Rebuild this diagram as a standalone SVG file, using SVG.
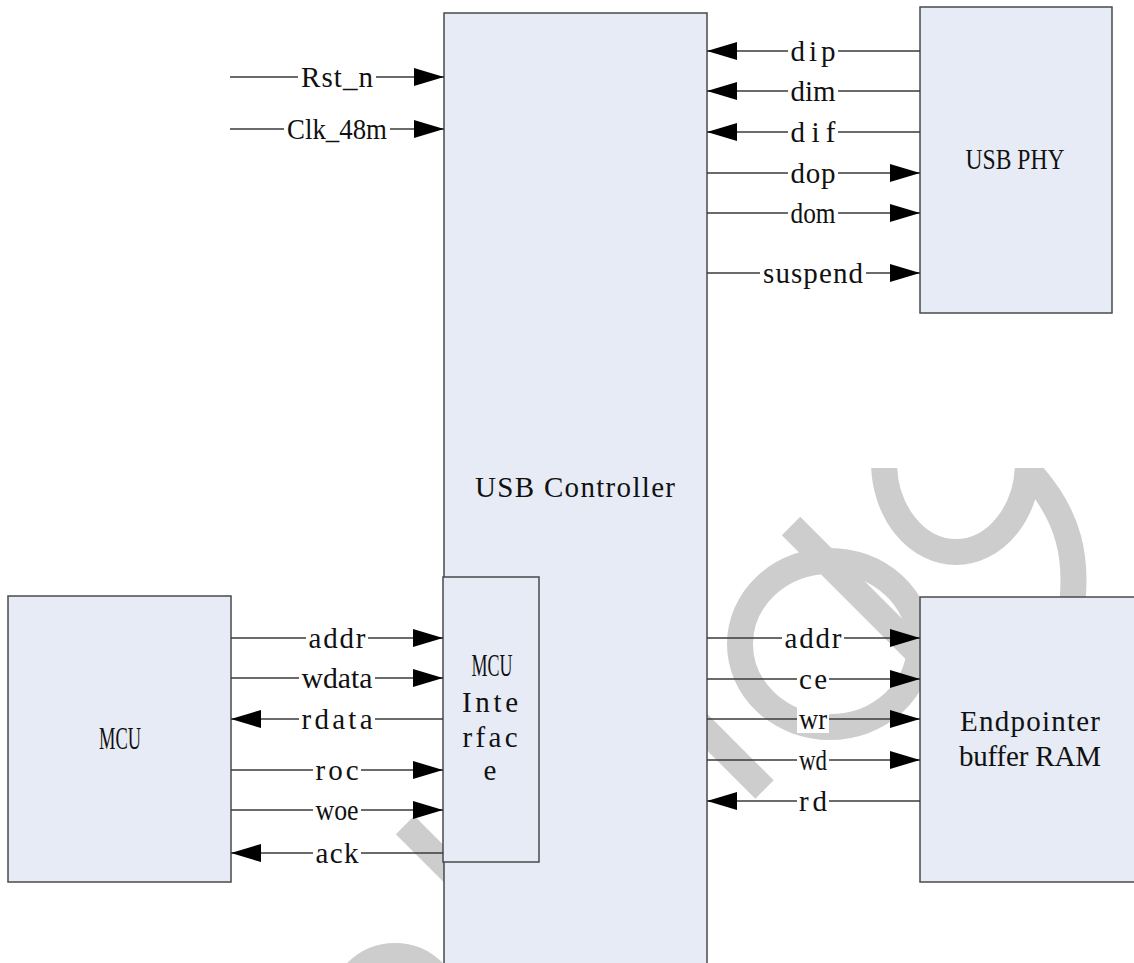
<svg xmlns="http://www.w3.org/2000/svg" width="1134" height="963" viewBox="0 0 1134 963">
<style>
.box{fill:#e7ebf5;stroke:#4a4a4a;stroke-width:1.5}
.t{font-family:"Liberation Serif",serif;font-size:29px;fill:#111;text-anchor:middle}
.u{font-size:31px}
.w{fill:none;stroke:#cdcdcd;stroke-width:26}
.c{stroke:#3a3a3a;stroke-width:1.4;fill:none;marker-end:url(#ah)}
.bg{fill:#fff}
</style>
<defs>
<marker id="ah" viewBox="0 0 30 20" refX="30" refY="10" markerWidth="30" markerHeight="20" markerUnits="userSpaceOnUse" orient="auto">
<path d="M0,1 L30,10 L0,19 z" fill="#000"/>
</marker>
<clipPath id="cut"><rect x="0" y="468" width="1134" height="500"/></clipPath>
</defs>
<rect width="1134" height="963" fill="#fff"/>
<g id="watermark">
<line class="w" x1="405" y1="825" x2="490" y2="910" stroke-width="23"/>
<circle class="w" cx="395" cy="1010" r="54"/>
<ellipse class="w" cx="956" cy="462" rx="72" ry="90" clip-path="url(#cut)"/>
<path class="w" d="M1028,470 C1070,515 1080,560 1070,620" clip-path="url(#cut)"/>
<ellipse class="w" cx="830" cy="644" rx="90" ry="83"/>
<line class="w" x1="791" y1="526" x2="930" y2="665" stroke-width="24"/>
<line class="w" x1="680" y1="705" x2="764.5" y2="789.5" stroke-width="24"/>
</g>
<g id="usb-controller">
<rect class="box" x="444" y="13" width="263" height="970"/>
<text class="t" x="575" y="497" textLength="200" lengthAdjust="spacing">USB Controller</text>
</g>
<g id="usb-phy">
<rect class="box" x="920" y="7" width="192" height="306"/>
<text class="t" x="1015" y="169" textLength="99" lengthAdjust="spacingAndGlyphs">USB PHY</text>
</g>
<g id="mcu">
<rect class="box" x="8" y="596" width="223" height="286"/>
<text class="t u" x="120" y="749" textLength="42" lengthAdjust="spacingAndGlyphs">MCU</text>
</g>
<g id="mcu-interface">
<rect class="box" x="443" y="577" width="96" height="285"/>
<text class="t u" x="492" y="676" textLength="41" lengthAdjust="spacingAndGlyphs">MCU</text>
<text class="t" x="490" y="712" textLength="56" lengthAdjust="spacing">Inte</text>
<text class="t" x="490" y="747" textLength="55" lengthAdjust="spacing">rfac</text>
<text class="t" x="490" y="780">e</text>
</g>
<g id="endpointer-ram">
<rect class="box" x="920" y="597" width="230" height="285"/>
<text class="t" x="1030" y="731" textLength="140" lengthAdjust="spacing">Endpointer</text>
<text class="t" x="1030" y="766" textLength="142" lengthAdjust="spacing">buffer RAM</text>
</g>
<g id="connectors">
<line class="c" x1="230" y1="77" x2="444" y2="77"/>
<line class="c" x1="230" y1="129" x2="444" y2="129"/>
<line class="c" x1="920" y1="51" x2="707" y2="51"/>
<line class="c" x1="920" y1="91" x2="707" y2="91"/>
<line class="c" x1="920" y1="132" x2="707" y2="132"/>
<line class="c" x1="707" y1="173" x2="920" y2="173"/>
<line class="c" x1="707" y1="213" x2="920" y2="213"/>
<line class="c" x1="707" y1="273" x2="920" y2="273"/>
<line class="c" x1="231" y1="638" x2="443" y2="638"/>
<line class="c" x1="231" y1="678" x2="443" y2="678"/>
<line class="c" x1="443" y1="719" x2="231" y2="719"/>
<line class="c" x1="231" y1="770" x2="443" y2="770"/>
<line class="c" x1="231" y1="810" x2="443" y2="810"/>
<line class="c" x1="443" y1="853" x2="231" y2="853"/>
<line class="c" x1="707" y1="638" x2="920" y2="638"/>
<line class="c" x1="707" y1="679" x2="920" y2="679"/>
<line class="c" x1="707" y1="719" x2="920" y2="719"/>
<line class="c" x1="707" y1="760" x2="920" y2="760"/>
<line class="c" x1="920" y1="801" x2="707" y2="801"/>
<g id="labels">
<rect class="bg" x="298" y="63" width="78" height="28"/><text class="t" x="337" y="87" textLength="72" lengthAdjust="spacing">Rst_n</text>
<rect class="bg" x="284" y="115" width="106" height="28"/><text class="t" x="337" y="139" textLength="100" lengthAdjust="spacingAndGlyphs">Clk_48m</text>
<rect class="bg" x="788" y="37" width="50" height="28"/><text class="t" x="813" y="61" textLength="45" lengthAdjust="spacing">dip</text>
<rect class="bg" x="788" y="77" width="50" height="28"/><text class="t" x="813" y="101" textLength="45" lengthAdjust="spacingAndGlyphs">dim</text>
<rect class="bg" x="788" y="118" width="50" height="28"/><text class="t" x="813" y="142" textLength="45" lengthAdjust="spacing">dif</text>
<rect class="bg" x="788" y="159" width="50" height="28"/><text class="t" x="813" y="183" textLength="45" lengthAdjust="spacing">dop</text>
<rect class="bg" x="788" y="199" width="50" height="28"/><text class="t" x="813" y="223" textLength="45" lengthAdjust="spacingAndGlyphs">dom</text>
<rect class="bg" x="760" y="259" width="106" height="28"/><text class="t" x="813" y="283" textLength="100" lengthAdjust="spacing">suspend</text>
<rect class="bg" x="306" y="624" width="62" height="28"/><text class="t" x="337" y="648" textLength="57" lengthAdjust="spacing">addr</text>
<rect class="bg" x="299" y="664" width="76" height="28"/><text class="t" x="337" y="688" textLength="71" lengthAdjust="spacingAndGlyphs">wdata</text>
<rect class="bg" x="299" y="705" width="76" height="28"/><text class="t" x="337" y="729" textLength="71" lengthAdjust="spacing">rdata</text>
<rect class="bg" x="313" y="756" width="48" height="28"/><text class="t" x="337" y="780" textLength="43" lengthAdjust="spacing">roc</text>
<rect class="bg" x="313" y="796" width="48" height="28"/><text class="t" x="337" y="820" textLength="43" lengthAdjust="spacingAndGlyphs">woe</text>
<rect class="bg" x="313" y="839" width="48" height="28"/><text class="t" x="337" y="863" textLength="43" lengthAdjust="spacing">ack</text>
<rect class="bg" x="782" y="624" width="62" height="28"/><text class="t" x="813" y="648" textLength="57" lengthAdjust="spacing">addr</text>
<rect class="bg" x="797" y="665" width="32" height="28"/><text class="t" x="813" y="689" textLength="28" lengthAdjust="spacing">ce</text>
<rect class="bg" x="797" y="705" width="32" height="28"/><text class="t" x="813" y="729" textLength="28" lengthAdjust="spacingAndGlyphs">wr</text>
<rect class="bg" x="797" y="746" width="32" height="28"/><text class="t" x="813" y="770" textLength="28" lengthAdjust="spacingAndGlyphs">wd</text>
<rect class="bg" x="797" y="787" width="32" height="28"/><text class="t" x="813" y="811" textLength="28" lengthAdjust="spacing">rd</text>
</g>
</g>
</svg>
